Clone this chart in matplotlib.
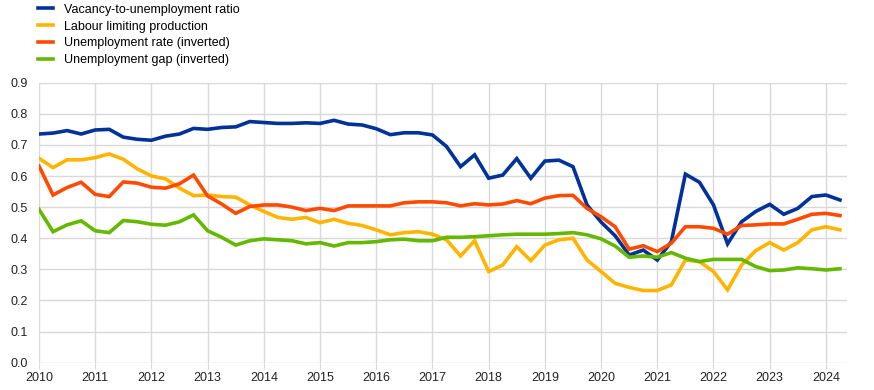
import numpy as np
import matplotlib
matplotlib.use("Agg")
import matplotlib.pyplot as plt

plt.rcParams['font.family'] = ['Liberation Sans', 'DejaVu Sans']

start_year = 2010
years = [2010, 2011, 2012, 2013, 2014, 2015, 2016, 2017, 2018, 2019, 2020, 2021, 2022, 2023, 2024]
y_ticks = [0.0, 0.1, 0.2, 0.3, 0.4, 0.5, 0.6, 0.7, 0.8, 0.9]

labels = ["Vacancy-to-unemployment ratio", "Labour limiting production",
          "Unemployment rate (inverted)", "Unemployment gap (inverted)"]
colors = ["#003299", "#FFB400", "#FF4B00", "#65B800"]

vacancy_ratio = [
    0.735, 0.738, 0.746, 0.735, 0.748, 0.750, 0.725, 0.718, 0.715, 0.728, 0.735, 0.753,
    0.750, 0.756, 0.758, 0.775, 0.772, 0.769, 0.769, 0.771, 0.769, 0.779, 0.767, 0.764,
    0.752, 0.733, 0.739, 0.739, 0.732, 0.695, 0.630, 0.668, 0.593, 0.603, 0.656, 0.593,
    0.648, 0.651, 0.630, 0.507, 0.452, 0.408, 0.346, 0.362, 0.330, 0.389, 0.606, 0.580,
    0.507, 0.382, 0.453, 0.486, 0.509, 0.477, 0.496, 0.534, 0.539, 0.523]

labour_limiting = [
    0.657, 0.627, 0.652, 0.652, 0.659, 0.671, 0.654, 0.623, 0.600, 0.591, 0.561, 0.537,
    0.539, 0.534, 0.532, 0.507, 0.486, 0.467, 0.461, 0.467, 0.450, 0.461, 0.448, 0.441,
    0.427, 0.411, 0.418, 0.421, 0.413, 0.395, 0.343, 0.392, 0.293, 0.314, 0.373, 0.328,
    0.378, 0.395, 0.400, 0.330, 0.293, 0.255, 0.242, 0.232, 0.232, 0.250, 0.330, 0.325,
    0.293, 0.234, 0.314, 0.360, 0.386, 0.362, 0.386, 0.427, 0.437, 0.427]

unemployment_rate_inv = [
    0.632, 0.539, 0.563, 0.580, 0.541, 0.534, 0.581, 0.577, 0.564, 0.561, 0.575, 0.603,
    0.536, 0.510, 0.480, 0.502, 0.507, 0.507, 0.500, 0.489, 0.496, 0.489, 0.504, 0.504,
    0.504, 0.504, 0.514, 0.517, 0.517, 0.514, 0.504, 0.511, 0.507, 0.510, 0.521, 0.511,
    0.529, 0.537, 0.538, 0.496, 0.469, 0.437, 0.365, 0.376, 0.357, 0.384, 0.437, 0.437,
    0.432, 0.413, 0.441, 0.443, 0.446, 0.446, 0.461, 0.477, 0.480, 0.473]

unemployment_gap_inv = [
    0.493, 0.421, 0.443, 0.456, 0.424, 0.418, 0.457, 0.453, 0.445, 0.442, 0.453, 0.475,
    0.424, 0.403, 0.378, 0.392, 0.398, 0.395, 0.392, 0.382, 0.386, 0.375, 0.386, 0.386,
    0.389, 0.395, 0.397, 0.392, 0.392, 0.403, 0.403, 0.405, 0.408, 0.411, 0.413, 0.413,
    0.413, 0.415, 0.418, 0.411, 0.398, 0.375, 0.339, 0.343, 0.339, 0.354, 0.336, 0.325,
    0.332, 0.332, 0.332, 0.309, 0.296, 0.298, 0.305, 0.302, 0.298, 0.302]

series = [vacancy_ratio, labour_limiting, unemployment_rate_inv, unemployment_gap_inv]
x = start_year + np.arange(len(vacancy_ratio)) * 0.25

fig = plt.figure(figsize=(8.74, 3.90), dpi=100)
ax = fig.add_axes([0.0446, 0.070, 0.9245, 0.718])

handles = []
for s, c, l in zip(series, colors, labels):
    h, = ax.plot(x, s, color=c, lw=2.6, label=l, solid_joinstyle='miter')
    handles.append(h)

ax.set_xlim(2010, 2024.375)
ax.set_ylim(0, 0.9)
ax.set_xticks(years)
ax.set_xticklabels([str(y) for y in years])
ax.set_yticks(y_ticks)
ax.set_yticklabels([f"{v:.1f}" for v in y_ticks])
ax.grid(True, color="#d9d9d9", lw=1.0)
ax.set_axisbelow(True)
for sp in ax.spines.values():
    sp.set_visible(False)
ax.tick_params(axis='x', length=4, color="#d9d9d9", labelsize=9, pad=3, labelcolor="#222222")
ax.tick_params(axis='y', length=0, labelsize=9, pad=8, labelcolor="#222222")

fig.legend(handles=handles, labels=labels, loc='upper left', bbox_to_anchor=(0.038, 1.003),
           frameon=False, fontsize=9, handlelength=1.2, handletextpad=0.9,
           labelspacing=0.38, borderaxespad=0.0)

fig.savefig("out.png", dpi=100)
